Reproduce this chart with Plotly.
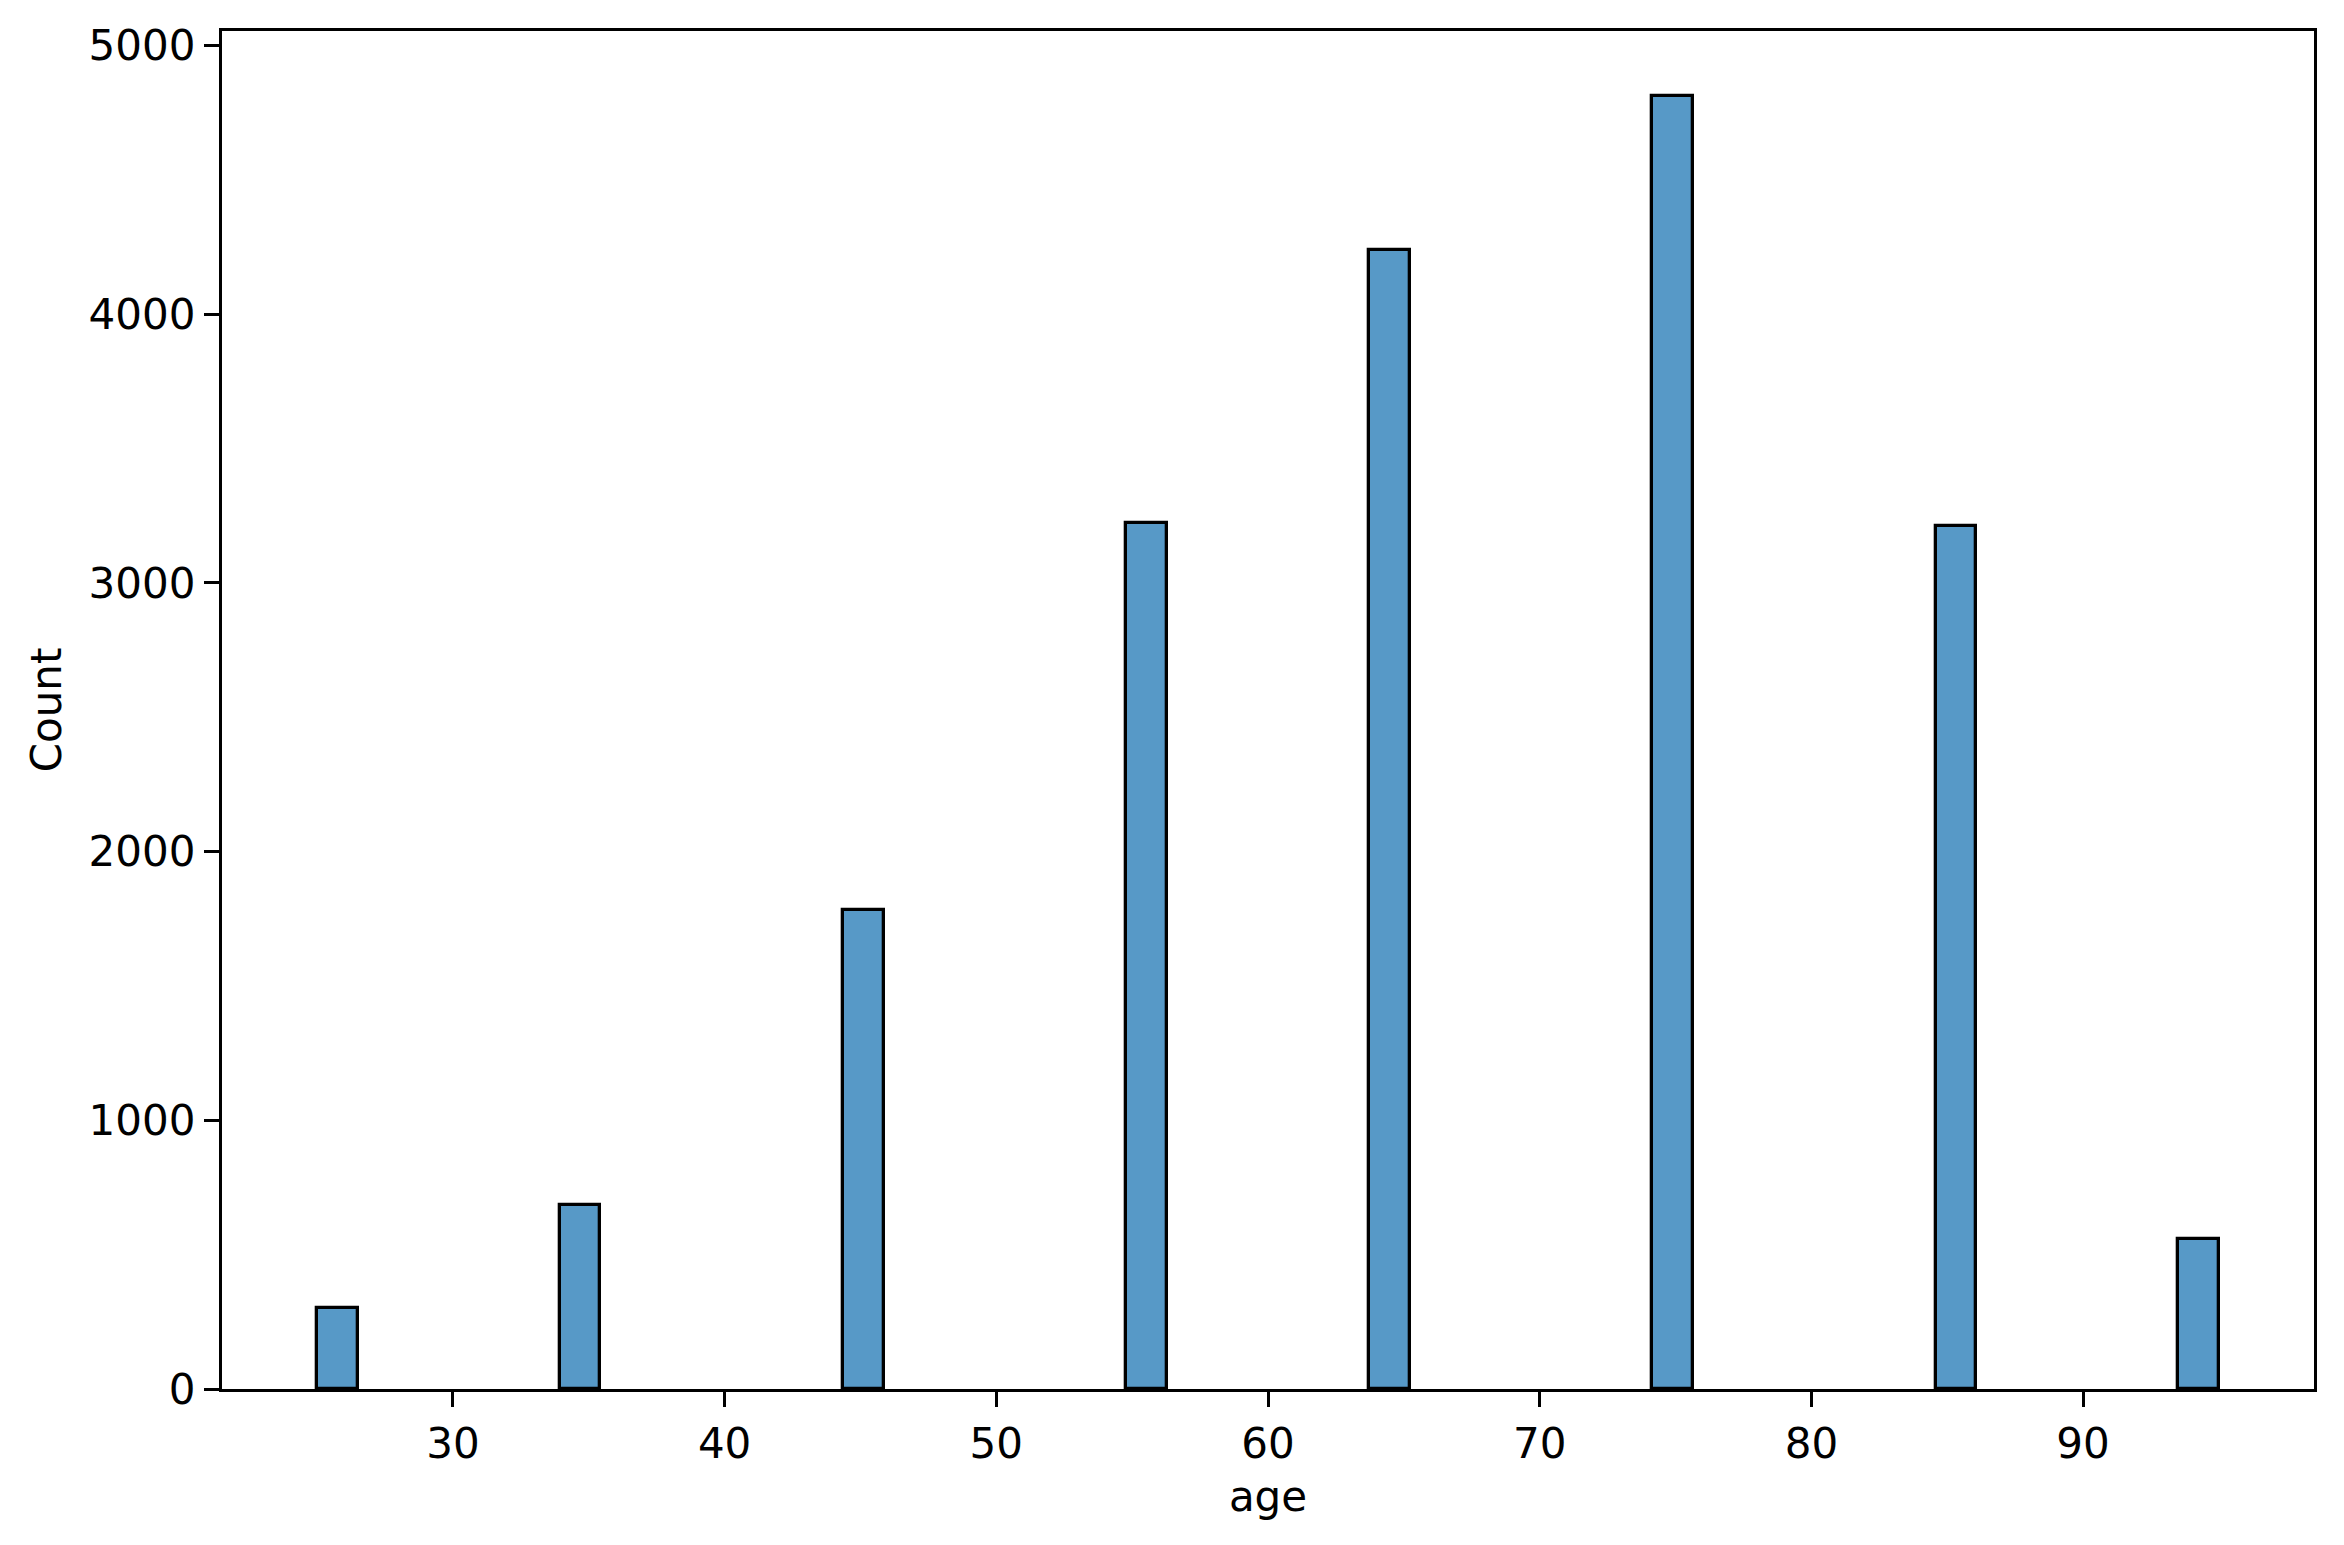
import numpy as np
import plotly.graph_objects as go

# Data (age values and their counts)
ages = [25, 35, 45, 55, 65, 75, 85, 95]
counts = [300, 683, 1782, 3224, 4238, 4813, 3210, 557]
n_bins = 47
x_ticks = [30, 40, 50, 60, 70, 80, 90]
y_ticks = [0, 1000, 2000, 3000, 4000, 5000]

heights, edges = np.histogram(ages, bins=n_bins, range=(min(ages), max(ages)), weights=counts)
bin_w = edges[1] - edges[0]
mask = heights > 0
lefts = edges[:-1][mask]
vals = heights[mask]

span = max(ages) - min(ages)
x_range = [min(ages) - 0.05 * span, max(ages) + 0.05 * span]
y_range = [0, max(vals) * 1.05]

fig = go.Figure()
fig.add_trace(go.Bar(
    x=lefts, y=vals, width=bin_w, offset=0,
    marker=dict(color="rgba(31,119,180,0.75)", line=dict(color="black", width=3.3)),
    showlegend=False,
))

font = dict(family="DejaVu Sans", size=42, color="black")
fig.update_layout(
    width=2328, height=1529,
    margin=dict(l=214, r=22, t=23, b=148, pad=0),
    plot_bgcolor="white", paper_bgcolor="white",
    font=font, bargap=0,
)
fig.update_xaxes(
    range=x_range, tickvals=x_ticks, ticks="outside", ticklen=15, tickwidth=3.3,
    tickcolor="black", showline=True, linecolor="black", linewidth=3.3, mirror=True,
    showgrid=False, zeroline=False, tickfont=font,
    title=dict(text="age", font=font, standoff=16),
)
fig.update_yaxes(
    range=y_range, tickvals=y_ticks, ticks="outside", ticklen=15, tickwidth=3.3,
    tickcolor="black", showline=True, linecolor="black", linewidth=3.3, mirror=True,
    showgrid=False, zeroline=False, tickfont=font,
    title=dict(text="Count", font=font, standoff=14),
)
fig.write_html("out.html")
